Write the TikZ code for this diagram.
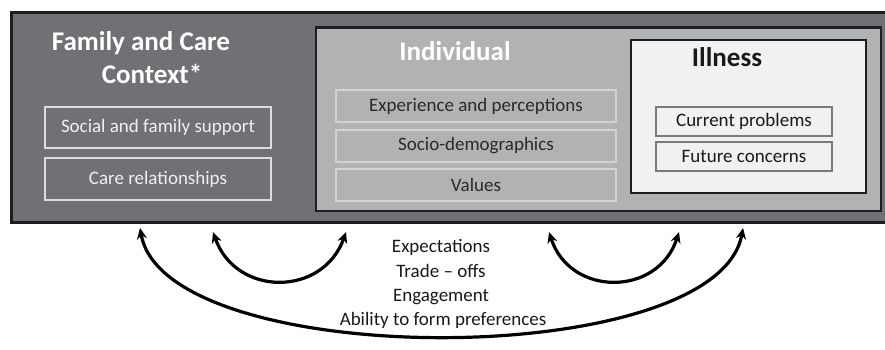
\documentclass[tikz,border=0pt]{standalone}
\usepackage{fontspec}
\setmainfont{Carlito}
\usetikzlibrary{arrows.meta}
\definecolor{outerfill}{HTML}{707174}
\definecolor{indfill}{HTML}{B1B2B4}
\definecolor{illfill}{HTML}{F1F1F1}
\definecolor{boxline}{HTML}{1E1E1E}
\definecolor{famline}{HTML}{DCDCDC}
\definecolor{indline}{HTML}{D2D3D4}
\definecolor{illline}{HTML}{7A7A7A}
\definecolor{darktext}{HTML}{2A2A2A}
\tikzset{
  panel/.style={draw=boxline, inner sep=0pt, outer sep=0pt},
  title/.style={font=\fontsize{27}{31}\selectfont\bfseries, inner sep=0pt, anchor=base},
  fambox/.style={draw=famline, line width=1.5pt, inner sep=0pt, minimum width=226pt, text=white!94!black, font=\fontsize{19}{23}\selectfont},
  indbox/.style={draw=indline, line width=1.5pt, inner sep=0pt, minimum width=280pt, minimum height=32pt, text=darktext, font=\fontsize{19}{23}\selectfont},
  illbox/.style={draw=illline, line width=1.5pt, inner sep=0pt, minimum width=176pt, minimum height=29pt, text=black!90, font=\fontsize{19}{23}\selectfont},
  midtext/.style={font=\fontsize{19}{23}\selectfont, text=black!90, inner sep=0pt, anchor=base},
  link/.style={line width=3.2pt, {Stealth[length=11pt,width=10pt]}-{Stealth[length=11pt,width=10pt]}},
}
\begin{document}
\begin{tikzpicture}[x=1pt,y=-1pt]
\useasboundingbox (0,0) rectangle (885,349);
\begin{scope}
\clip (0,0) rectangle (885,349);
\node[panel, fill=outerfill, line width=3pt, minimum width=876pt, minimum height=210pt] (outer) at (449,117) {};
\end{scope}
\node[panel, fill=indfill, line width=2.6pt, minimum width=565pt, minimum height=183.5pt] (ind) at (598.5,119.25) {};
\node[panel, fill=illfill, line width=2.6pt, minimum width=235pt, minimum height=153pt] (ill) at (748.5,116.5) {};
% titles
\node[title, text=white] (famt1) at (141,50) {Family and Care};
\node[title, text=white] (famt2) at (152,83) {Context*};
\node[title, text=white] (indt) at (455,60) {Individual};
\node[title, text=black!90] (illt) at (727,66) {Illness};
% family boxes
\node[fambox, minimum height=41pt] (social) at (158,127.5) {Social and family support};
\node[fambox, minimum height=42pt] (care) at (158,179) {Care relationships};
% individual boxes
\node[indbox] (exp) at (476,106) {Experience and perceptions};
\node[indbox] (socio) at (476,146) {Socio-demographics};
\node[indbox] (values) at (476,185) {Values};
% illness boxes
\node[illbox] (curr) at (744,121.5) {Current problems};
\node[illbox] (fut) at (744,156.5) {Future concerns};
% middle text
\node[midtext] (t1) at (441,252) {Expectations};
\node[midtext] (t2) at (441,277) {Trade – offs};
\node[midtext] (t3) at (441,301) {Engagement};
\node[midtext] (t4) at (443,325) {Ability to form preferences};
% arrow ends
\coordinate (a1) at (213,232);
\coordinate (a2) at (346,232);
\coordinate (b1) at (549,232);
\coordinate (b2) at (679,232);
\coordinate (c1) at (140,228);
\coordinate (c2) at (743,228);
\draw[link] (a1) .. controls (236,297) and (323,297) .. (a2);
\draw[link] (b1) .. controls (570,297) and (658,297) .. (b2);
\draw[link] (c1) .. controls (166,372) and (717,372) .. (c2);
\end{tikzpicture}
\end{document}
